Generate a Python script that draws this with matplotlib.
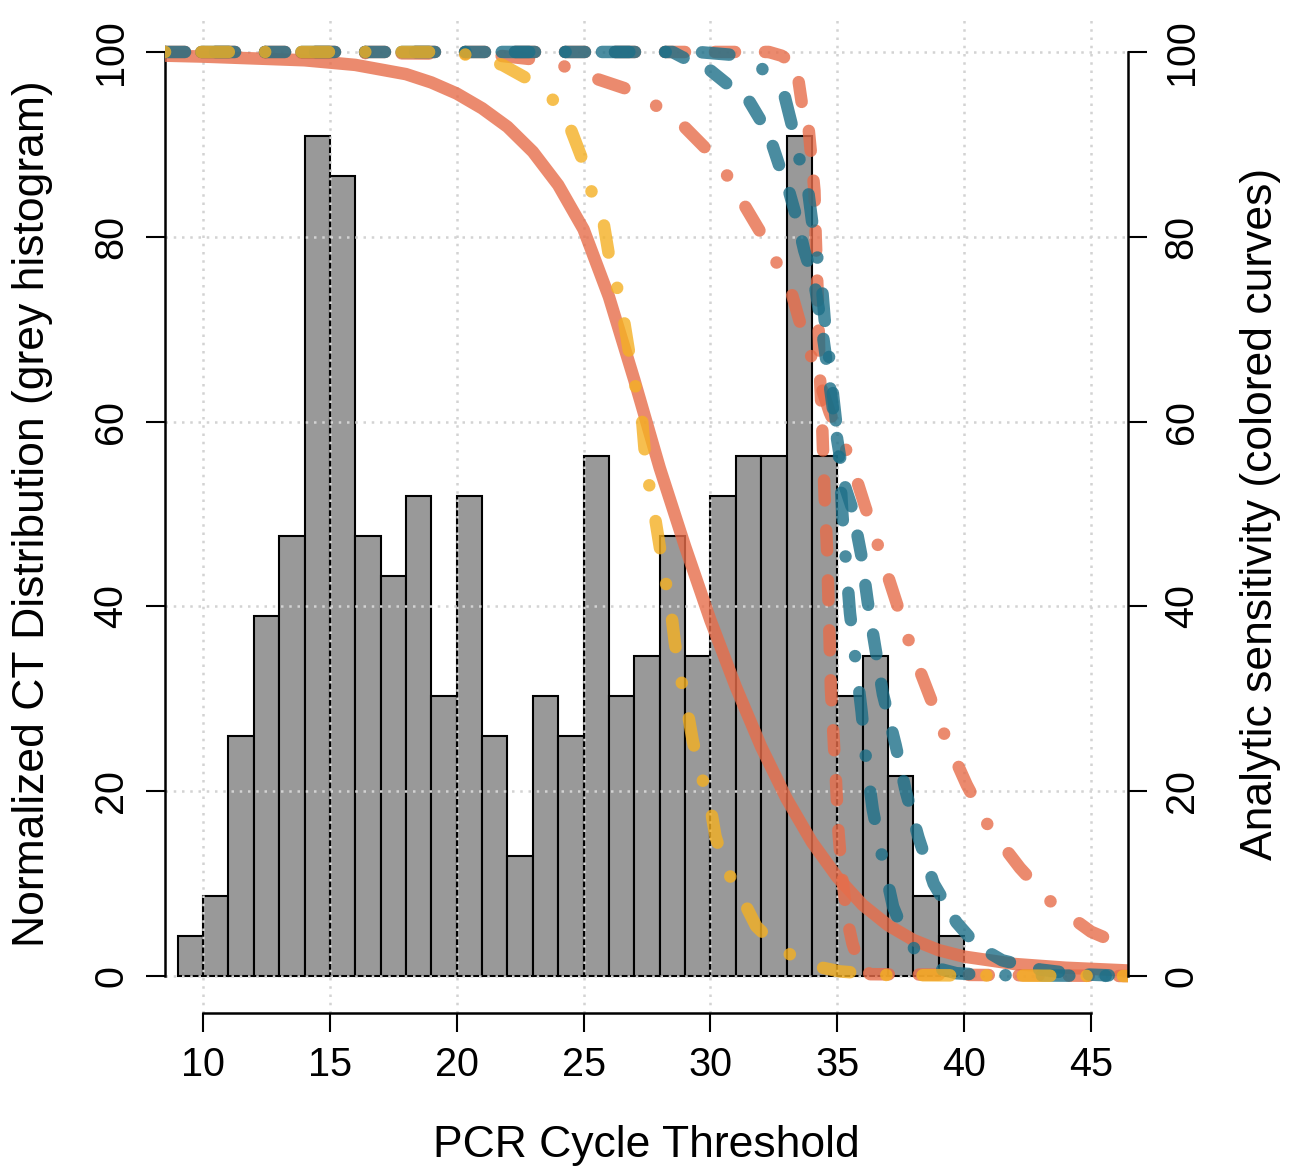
import matplotlib
matplotlib.use('Agg')
import matplotlib.pyplot as plt

plt.rcParams['font.family'] = ['Liberation Sans', 'DejaVu Sans']

#---    Histogram (normalized CT distribution)
ct_bins = [9, 10, 11, 12, 13, 14, 15, 16, 17, 18, 19, 20, 21, 22, 23, 24,
           25, 26, 27, 28, 29, 30, 31, 32, 33, 34, 35, 36, 37, 38, 39]
hist_heights = [4.3, 8.7, 26.0, 39.0, 47.6, 90.9, 86.6, 47.6, 43.3, 51.9, 30.3,
                51.9, 26.0, 13.0, 30.3, 26.0, 56.3, 30.3, 34.6, 47.6, 34.6, 51.9,
                56.3, 56.3, 90.9, 56.3, 30.3, 34.6, 21.6, 8.7, 4.3]

#---    Sensitivity curves
c1_x = [8.5, 10, 12, 14, 16, 18, 19, 20, 21, 22, 23, 24, 25, 26, 27, 28, 29,
        30, 31, 32, 33, 34, 35, 36, 37, 38, 39, 40, 42, 44, 46.45]
c1_y = [99.6, 99.5, 99.3, 99.1, 98.6, 97.6, 96.7, 95.5, 93.9, 91.9, 89.2, 85.6,
        80.8, 73.5, 64.5, 55.0, 46.5, 38.5, 31.3, 24.8, 19.2, 14.5, 10.7, 7.7,
        5.5, 3.9, 2.8, 2.1, 1.3, 0.9, 0.6]

c2_x = [8.5, 21, 23, 24.3, 25.5, 26.7, 27.8, 28.9, 29.8, 30.6, 31.3, 31.95,
        32.5, 33.2, 33.5, 34.1, 34.7, 35.5, 36.1, 36.7, 37.3, 37.9, 38.6, 39.3,
        40.1, 41.0, 42.2, 43.5, 45.0, 46.45]
c2_y = [100, 99.8, 99.2, 98.4, 97.1, 96.0, 94.3, 92.1, 89.6, 86.9, 83.6, 80.6,
        77.8, 73.9, 71.0, 66.0, 61.0, 56.0, 50.8, 45.8, 40.7, 35.6, 30.6, 25.6,
        20.7, 16.0, 11.7, 7.8, 4.8, 3.1]

c3_x = [8.5, 32.3, 32.8, 33.1, 33.45, 33.6, 33.85, 33.95, 34.1, 34.15, 34.2,
        34.25, 34.3, 34.4, 34.5, 34.6, 34.65, 34.7, 34.75, 34.85, 34.95, 35.05,
        35.2, 35.4, 35.6, 35.9, 36.3, 46.45]
c3_y = [100, 100, 99.6, 99.1, 97.3, 94.5, 92.3, 89.4, 85.0, 80.0, 76.0, 72.0,
        66.0, 60.0, 52.0, 46.0, 41.0, 36.0, 31.0, 26.0, 21.0, 15.5, 10.5, 6.0,
        3.5, 1.0, 0.2, 0.0]

t1_x = [8.5, 28.5, 29.2, 30.0, 30.9, 31.5, 32.0, 32.4, 32.7, 33.05, 33.4, 33.7,
        34.1, 34.4, 34.7, 35.0, 35.3, 35.6, 35.95, 36.2, 36.5, 36.8, 37.3, 37.7,
        38.2, 38.8, 39.7, 40.5, 41.5, 43.0, 44.5, 46.45]
t1_y = [100, 100, 99.0, 98.0, 96.0, 94.8, 92.5, 90.3, 87.8, 85.4, 82.0, 78.5,
        75.0, 70.0, 64.0, 58.0, 53.0, 50.5, 45.5, 40.5, 35.5, 30.5, 25.0, 20.0,
        15.0, 10.0, 5.8, 3.3, 1.7, 0.7, 0.2, 0.0]

t2_x = [8.5, 29.5, 30.8, 32.0, 32.9, 33.2, 33.45, 33.85, 34.0, 34.2, 34.4, 34.5,
        34.65, 34.8, 34.95, 35.1, 35.2, 35.35, 35.5, 35.75, 35.96, 36.15, 36.4,
        36.8, 37.2, 37.7, 38.3, 39.0, 39.7, 41.0, 46.45]
t2_y = [100, 100, 99.7, 98.3, 95.5, 92.2, 89.0, 85.0, 81.8, 78.0, 74.5, 71.1,
        67.7, 63.7, 60.0, 55.0, 50.0, 44.5, 39.3, 33.5, 28.6, 23.0, 18.0, 12.5,
        7.5, 4.2, 2.0, 0.8, 0.3, 0.1, 0.0]

y1_x = [8.5, 19.5, 20.4, 21.8, 22.85, 23.8, 24.5, 24.96, 25.3, 25.8, 26.0, 26.3,
        26.6, 26.8, 27.0, 27.3, 27.4, 27.55, 27.8, 28.0, 28.2, 28.45, 28.6, 28.8,
        29.1, 29.3, 29.6, 30.0, 30.2, 30.6, 31.25, 31.8, 32.7, 33.9, 35.1, 37.0,
        46.45]
y1_y = [100, 100, 99.7, 98.6, 97.0, 94.8, 91.6, 88.3, 85.0, 81.3, 78.0, 74.8,
        70.8, 67.4, 64.4, 60.4, 57.1, 53.7, 49.9, 46.5, 43.2, 39.4, 36.0, 32.7,
        28.6, 25.5, 22.1, 18.3, 15.1, 11.7, 8.4, 5.4, 3.0, 1.2, 0.5, 0.1, 0.0]

coral = '#E76D4A'
teal = '#1D6F88'
yellow = '#F4B023'
dotdash = (0, (0.01, 2.9, 2.2, 2.9))
dashed = (0, (1.6, 2.4))

#---    Graph
fig = plt.figure(figsize=(12.92, 11.71), dpi=100)
ax = fig.add_axes([165/1292, 1 - 1013/1171, 963/1292, 998/1171])

ax.bar(ct_bins, hist_heights, width=1, align='edge', color='#999999',
       edgecolor='black', linewidth=1.5, zorder=1)
ax.grid(True, color='lightgray', linestyle=(0, (1, 2.3)), linewidth=1.8)

ax.set_xlim(8.5, 46.46)
ax.set_ylim(-4, 104)
ax.set_xticks([10, 15, 20, 25, 30, 35, 40, 45])
ax.set_yticks([0, 20, 40, 60, 80, 100])
for s in ['top', 'right']:
    ax.spines[s].set_visible(False)
ax.spines['left'].set_bounds(0, 100)
ax.spines['bottom'].set_bounds(10, 45)
for s in ['left', 'bottom']:
    ax.spines[s].set_linewidth(1.8)
ax.tick_params(axis='both', length=14, width=1.5, labelsize=28.5)
ax.tick_params(axis='x', pad=10)
ax.tick_params(axis='y', pad=11, labelrotation=90)
plt.setp(ax.get_yticklabels(), va='center')
ax.set_xlabel('PCR Cycle Threshold', fontsize=32)
ax.xaxis.set_label_coords(0.5, -0.112)
ax.set_ylabel('Normalized CT Distribution (grey histogram)', fontsize=32)
ax.yaxis.set_label_coords(-0.1163, 0.5)

ax2 = ax.twinx()
ax2.set_ylim(-4, 104)
ax2.set_yticks([0, 20, 40, 60, 80, 100])
for s in ['top', 'left', 'bottom']:
    ax2.spines[s].set_visible(False)
ax2.spines['right'].set_bounds(0, 100)
ax2.spines['right'].set_linewidth(1.8)
ax2.tick_params(axis='y', length=14, width=1.5, labelsize=28.5, pad=11, labelrotation=90)
plt.setp(ax2.get_yticklabels(), va='center')
ax2.set_ylabel('Analytic sensitivity (colored curves)', fontsize=32)
ax2.yaxis.set_label_coords(1.116, 0.5)

lw = 9
ax2.plot(c1_x, c1_y, color=coral, alpha=0.8, linewidth=lw, solid_joinstyle='round')
ax2.plot(c2_x, c2_y, color=coral, alpha=0.8, linewidth=lw, linestyle=dotdash, dash_capstyle='round')
ax2.plot(c3_x, c3_y, color=coral, alpha=0.8, linewidth=lw, linestyle=dashed, dash_capstyle='round')
ax2.plot(t1_x, t1_y, color=teal, alpha=0.8, linewidth=lw, linestyle=dashed, dash_capstyle='round')
ax2.plot(t2_x, t2_y, color=teal, alpha=0.8, linewidth=lw, linestyle=dotdash, dash_capstyle='round')
ax2.plot(y1_x, y1_y, color=yellow, alpha=0.8, linewidth=lw, linestyle=dotdash, dash_capstyle='round')

plt.savefig('out.png', dpi=100)
